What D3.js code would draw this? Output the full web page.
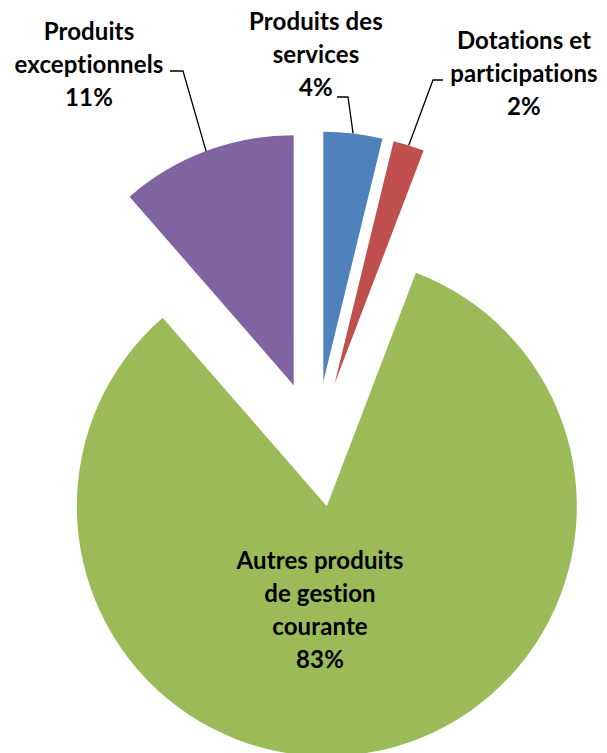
<!DOCTYPE html>
<html lang="fr">
<head>
    <meta charset="UTF-8">
    <title>Répartition des produits</title>
    <script src="https://d3js.org/d3.v7.min.js"></script>
    <style>
        body { margin: 0; padding: 0; background: #fff; }
        svg { display: block; }
        .lbl {
            font-family: Lato, "Open Sans", sans-serif;
            font-weight: bold;
            font-size: 24px;
            fill: #000;
            font-variant-ligatures: none;
            letter-spacing: 0.1px;
        }
    </style>
</head>
<body>
<svg id="chart" width="607" height="753"></svg>
<script>
    // data, clockwise from 12 o'clock
    const categories = ["Produits des services", "Dotations et participations", "Autres produits de gestion courante", "Produits exceptionnels"];
    const shares = [3.8, 2.0, 82.8, 11.4];
    const colors = ["#4F81BD", "#C0504D", "#9BBB59", "#8064A2"];
    const labelLines = [
        ["Produits des", "services"],
        ["Dotations et", "participations"],
        ["Autres produits", "de gestion", "courante"],
        ["Produits", "exceptionnels"]
    ];

    const width = 607, height = 753;
    const cx = 315.8, cy = 444.2, radius = 250, explode = 63;
    const lineH = 33;

    // label placement (centre x, first baseline y) and leader elbow
    const layout = [
        { x: 316, y: 30, elbow: [[337, 97], [348, 97]] },
        { x: 524, y: 49, elbow: [[443, 80], [433, 80]] },
        { x: 320, y: 569, elbow: null },
        { x: 89, y: 40, elbow: [[170, 71], [183, 71]] }
    ];

    const svg = d3.select("#chart");
    const g = svg.append("g").attr("transform", `translate(${cx},${cy})`);

    const pie = d3.pie().sort(null).value(d => d);
    const arcs = pie(shares);
    const arc = d3.arc().innerRadius(0).outerRadius(radius);

    const offset = d => {
        const a = (d.startAngle + d.endAngle) / 2;
        return [explode * Math.sin(a), -explode * Math.cos(a)];
    };

    g.selectAll("path.slice")
        .data(arcs)
        .enter().append("path")
        .attr("class", "slice")
        .attr("transform", d => `translate(${offset(d)})`)
        .attr("d", arc)
        .attr("fill", (d, i) => colors[i]);

    // leader lines to the middle of the outer arc
    arcs.forEach((d, i) => {
        const L = layout[i];
        if (!L.elbow) return;
        const a = (d.startAngle + d.endAngle) / 2;
        const o = offset(d);
        const px = cx + o[0] + radius * Math.sin(a);
        const py = cy + o[1] - radius * Math.cos(a);
        svg.append("path")
            .attr("d", d3.line()([L.elbow[0], L.elbow[1], [px, py]]))
            .attr("fill", "none")
            .attr("stroke", "#000")
            .attr("stroke-width", 1.3);
    });

    // labels
    arcs.forEach((d, i) => {
        const L = layout[i];
        const lines = labelLines[i].concat([Math.round(d.data) + "%"]);
        const t = svg.append("text")
            .attr("class", "lbl")
            .attr("text-anchor", "middle");
        lines.forEach((s, k) => {
            t.append("tspan")
                .attr("x", L.x)
                .attr("y", L.y + k * lineH)
                .text(s);
        });
    });
</script>
</body>
</html>
